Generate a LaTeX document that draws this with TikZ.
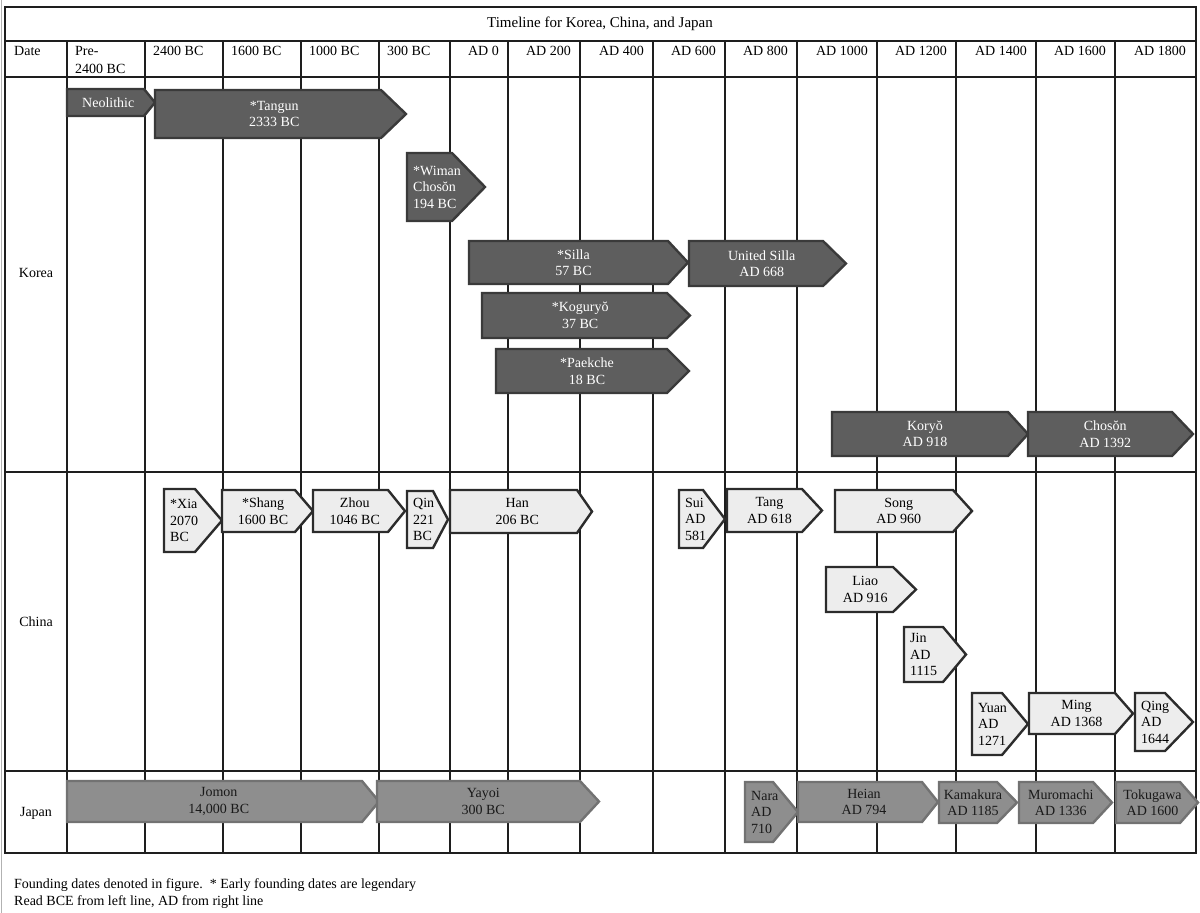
\documentclass[tikz,border=0pt]{standalone}
\usepackage{fontspec}
\setmainfont{Liberation Serif}
\usepackage{xcolor}
\definecolor{korfill}{HTML}{5E5E5E}
\definecolor{korline}{HTML}{3A3A3A}
\definecolor{chnfill}{HTML}{EDEDED}
\definecolor{chnline}{HTML}{2C2C2C}
\definecolor{jpnfill}{HTML}{8E8E8E}
\definecolor{jpnline}{HTML}{727272}
\definecolor{gridline}{HTML}{1E1E1E}
% period arrow: style, name, left, top, body end, tip, bottom, text
\newcommand{\era}[8]{%
  \draw[#1box] (#3,#4) -- (#5,#4) -- (#6,{(#4+#7)/2}) -- (#5,#7) -- (#3,#7) -- cycle;
  \node[#1txt] (#2) at ({(#3+(#5+#6)/2)/2},{(#4+#7)/2}) {#8};}
\newcommand{\eraleft}[8]{%
  \draw[#1box] (#3,#4) -- (#5,#4) -- (#6,{(#4+#7)/2}) -- (#5,#7) -- (#3,#7) -- cycle;
  \node[#1txt,anchor=west,align=left] (#2) at ({#3+6},{(#4+#7)/2}) {#8};}

\begin{document}
\begin{tikzpicture}[
  x=1pt,y=-1pt,
  grid/.style={draw=gridline,line width=1.3pt},
  korbox/.style={draw=korline,fill=korfill,line width=2.4pt},
  chnbox/.style={draw=chnline,fill=chnfill,line width=2.4pt},
  jpnbox/.style={draw=jpnline,fill=jpnfill,line width=2.4pt},
  eratxt/.style={inner sep=0pt,align=center,font=\fontsize{14}{16.5}\selectfont},
  kortxt/.style={eratxt,text=white},
  chntxt/.style={eratxt,text=black},
  jpntxt/.style={eratxt,text=black!90},
  hd/.style={inner sep=0pt,font=\fontsize{14}{18}\selectfont},
  ft/.style={inner sep=0pt,font=\fontsize{14}{17}\selectfont}
]
\useasboundingbox (0,0) rectangle (1200,913);
\draw[gray!60,line width=0.8pt] (1,0) -- (1,913);
% Table
\draw[grid] (5,7) rectangle (1196,853);
\foreach \y in {41,77,472,771} \draw[grid] (5,\y) -- (1196,\y);
\foreach \x in {67,145,223,301,379,450,508,580,653,725,797,877,956,1036,1115}
  \draw[grid] (\x,41) -- (\x,853);
% Title and header
\node[hd,font=\fontsize{15}{18}\selectfont] (title) at (600,24) {Timeline for Korea, China, and Japan};
\node[hd,anchor=north west] (hdate) at (14,46) {Date};
\node[hd,anchor=north west,align=left] (hpre) at (75,46) {Pre-\\2400 BC};
\node[hd,anchor=north west] (h2400) at (153,46) {2400 BC};
\node[hd,anchor=north west] (h1600) at (231,46) {1600 BC};
\node[hd,anchor=north west] (h1000) at (309,46) {1000 BC};
\node[hd,anchor=north west] (h300) at (387,46) {300 BC};
\node[hd,anchor=north east] (h0) at (499,46) {AD 0};
\node[hd,anchor=north east] (h200) at (571,46) {AD 200};
\node[hd,anchor=north east] (h400) at (644,46) {AD 400};
\node[hd,anchor=north east] (h600) at (716,46) {AD 600};
\node[hd,anchor=north east] (h800) at (788,46) {AD 800};
\node[hd,anchor=north east] (h1000ad) at (868,46) {AD 1000};
\node[hd,anchor=north east] (h1200) at (947,46) {AD 1200};
\node[hd,anchor=north east] (h1400) at (1027,46) {AD 1400};
\node[hd,anchor=north east] (h1600ad) at (1106,46) {AD 1600};
\node[hd,anchor=north east] (h1800) at (1186,46) {AD 1800};
% Row labels
\node[hd] (korea) at (36,273) {Korea};
\node[hd] (china) at (36,622) {China};
\node[hd] (japan) at (36,813) {Japan};
% Korea
\era{kor}{neo}{67}{89}{144}{155}{116}{Neolithic}
\era{kor}{tangun}{155}{90}{381}{406}{138}{*Tangun\\2333 BC}
\eraleft{kor}{wiman}{407}{153}{452}{485}{221}{*Wiman\\Chosŏn\\194 BC}
\era{kor}{silla}{469}{241}{668}{688}{284}{*Silla\\57 BC}
\era{kor}{usilla}{689}{241}{823}{846}{286}{United Silla\\AD 668}
\era{kor}{koguryo}{482}{293}{667}{690}{338}{*Koguryŏ\\37 BC}
\era{kor}{paekche}{496}{349}{667}{689}{393}{*Paekche\\18 BC}
\era{kor}{koryo}{832}{412}{1008}{1028}{456}{Koryŏ\\AD 918}
\era{kor}{choson}{1028}{412}{1172}{1193}{456}{Chosŏn\\AD 1392}
% China
\eraleft{chn}{xia}{164}{489}{195}{222}{552}{*Xia\\2070\\BC}
\era{chn}{shang}{222}{490}{295}{313}{532}{*Shang\\1600 BC}
\era{chn}{zhou}{313}{490}{388}{405}{532}{Zhou\\1046 BC}
\eraleft{chn}{qin}{407}{491}{433}{448}{548}{Qin\\221\\BC}
\era{chn}{han}{450}{490}{577}{592}{533}{Han\\206 BC}
\eraleft{chn}{sui}{679}{490}{703}{725}{548}{Sui\\AD\\581}
\era{chn}{tang}{727}{489}{802}{822}{532}{Tang\\AD 618}
\era{chn}{song}{835}{490}{953}{972}{532}{Song\\AD 960}
\era{chn}{liao}{826}{567}{893}{916}{612}{Liao\\AD 916}
\eraleft{chn}{jin}{904}{627}{943}{966}{682}{Jin\\AD\\1115}
\eraleft{chn}{yuan}{972}{693}{1002}{1028}{755}{Yuan\\AD\\1271}
\era{chn}{ming}{1029}{693}{1115}{1133}{734}{Ming\\AD 1368}
\eraleft{chn}{qing}{1135}{693}{1165}{1193}{751}{Qing\\AD\\1644}
% Japan
\era{jpn}{jomon}{67}{781}{362}{379}{822}{Jomon\\14,000 BC}
\era{jpn}{yayoi}{377}{781}{580}{599}{822}{Yayoi\\300 BC}
\eraleft{jpn}{nara}{745}{782}{773}{798}{842}{Nara\\AD\\710}
\era{jpn}{heian}{798}{782}{922}{938}{822}{Heian\\AD 794}
\era{jpn}{kamakura}{939}{782}{997}{1017}{823}{Kamakura\\AD 1185}
\era{jpn}{muromachi}{1019}{782}{1093}{1112}{823}{Muromachi\\AD 1336}
\era{jpn}{tokugawa}{1116}{782}{1180}{1198}{823}{Tokugawa\\AD 1600}
% Notes
\node[ft,anchor=base west] (note1) at (14,888) {Founding dates denoted in figure.\ \ * Early founding dates are legendary};
\node[ft,anchor=base west] (note2) at (14,905) {Read BCE from left line, AD from right line};
\end{tikzpicture}
\end{document}
